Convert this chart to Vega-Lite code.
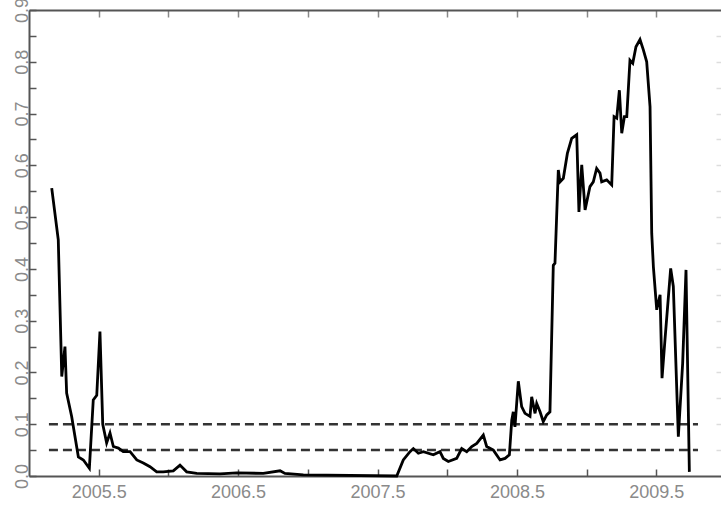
{
  "$schema": "https://vega.github.io/schema/vega-lite/v6.json",
  "width": 692,
  "height": 466,
  "autosize": {"type": "none"},
  "padding": {"left": 29, "top": 10, "right": 0, "bottom": 29},
  "background": "white",
  "config": {
    "view": {"stroke": null},
    "axis": {
      "grid": false,
      "title": null,
      "domainColor": "#555555",
      "domainWidth": 2,
      "ticks": true,
      "tickColor": "#555555",
      "tickWidth": 1.5,
      "tickSize": -7,
      "labelFont": "Liberation Sans",
      "labelFontSize": 18,
      "labelColor": "#8a8a8a"
    }
  },
  "datasets": {
    "series": [
      {"t": 2005.163, "v": 0.556}, {"t": 2005.210, "v": 0.456}, {"t": 2005.235, "v": 0.192},
      {"t": 2005.258, "v": 0.250}, {"t": 2005.270, "v": 0.160}, {"t": 2005.306, "v": 0.115},
      {"t": 2005.354, "v": 0.037}, {"t": 2005.390, "v": 0.031}, {"t": 2005.433, "v": 0.015},
      {"t": 2005.461, "v": 0.147}, {"t": 2005.486, "v": 0.156}, {"t": 2005.509, "v": 0.279},
      {"t": 2005.529, "v": 0.100}, {"t": 2005.557, "v": 0.064}, {"t": 2005.581, "v": 0.083},
      {"t": 2005.605, "v": 0.057}, {"t": 2005.641, "v": 0.054}, {"t": 2005.676, "v": 0.047},
      {"t": 2005.725, "v": 0.047}, {"t": 2005.773, "v": 0.031}, {"t": 2005.820, "v": 0.025},
      {"t": 2005.868, "v": 0.018}, {"t": 2005.916, "v": 0.008}, {"t": 2005.963, "v": 0.008},
      {"t": 2006.035, "v": 0.010}, {"t": 2006.083, "v": 0.021}, {"t": 2006.131, "v": 0.008},
      {"t": 2006.203, "v": 0.005}, {"t": 2006.370, "v": 0.004}, {"t": 2006.490, "v": 0.006},
      {"t": 2006.681, "v": 0.005}, {"t": 2006.801, "v": 0.010}, {"t": 2006.836, "v": 0.005},
      {"t": 2006.968, "v": 0.002}, {"t": 2007.638, "v": 0.000}, {"t": 2007.685, "v": 0.031},
      {"t": 2007.733, "v": 0.047}, {"t": 2007.757, "v": 0.053}, {"t": 2007.793, "v": 0.044},
      {"t": 2007.829, "v": 0.047}, {"t": 2007.900, "v": 0.041}, {"t": 2007.948, "v": 0.047},
      {"t": 2007.972, "v": 0.034}, {"t": 2008.008, "v": 0.028}, {"t": 2008.068, "v": 0.034},
      {"t": 2008.104, "v": 0.053}, {"t": 2008.140, "v": 0.047}, {"t": 2008.176, "v": 0.057},
      {"t": 2008.212, "v": 0.063}, {"t": 2008.259, "v": 0.079}, {"t": 2008.283, "v": 0.057},
      {"t": 2008.331, "v": 0.050}, {"t": 2008.379, "v": 0.031}, {"t": 2008.415, "v": 0.034},
      {"t": 2008.446, "v": 0.041}, {"t": 2008.463, "v": 0.108}, {"t": 2008.474, "v": 0.124},
      {"t": 2008.486, "v": 0.095}, {"t": 2008.510, "v": 0.183}, {"t": 2008.534, "v": 0.134},
      {"t": 2008.558, "v": 0.121}, {"t": 2008.594, "v": 0.115}, {"t": 2008.606, "v": 0.153},
      {"t": 2008.630, "v": 0.121}, {"t": 2008.642, "v": 0.140}, {"t": 2008.666, "v": 0.124},
      {"t": 2008.689, "v": 0.105}, {"t": 2008.714, "v": 0.118}, {"t": 2008.737, "v": 0.124},
      {"t": 2008.761, "v": 0.407}, {"t": 2008.773, "v": 0.411}, {"t": 2008.797, "v": 0.591},
      {"t": 2008.809, "v": 0.568}, {"t": 2008.833, "v": 0.575}, {"t": 2008.862, "v": 0.623},
      {"t": 2008.893, "v": 0.652}, {"t": 2008.929, "v": 0.659}, {"t": 2008.945, "v": 0.510},
      {"t": 2008.965, "v": 0.601}, {"t": 2008.989, "v": 0.514}, {"t": 2009.024, "v": 0.559},
      {"t": 2009.048, "v": 0.568}, {"t": 2009.072, "v": 0.594}, {"t": 2009.096, "v": 0.585},
      {"t": 2009.108, "v": 0.568}, {"t": 2009.144, "v": 0.572}, {"t": 2009.180, "v": 0.562},
      {"t": 2009.197, "v": 0.694}, {"t": 2009.216, "v": 0.691}, {"t": 2009.235, "v": 0.745},
      {"t": 2009.252, "v": 0.662}, {"t": 2009.271, "v": 0.694}, {"t": 2009.288, "v": 0.694},
      {"t": 2009.311, "v": 0.803}, {"t": 2009.331, "v": 0.797}, {"t": 2009.354, "v": 0.829},
      {"t": 2009.383, "v": 0.843}, {"t": 2009.407, "v": 0.823}, {"t": 2009.431, "v": 0.800},
      {"t": 2009.455, "v": 0.713}, {"t": 2009.467, "v": 0.469}, {"t": 2009.479, "v": 0.404},
      {"t": 2009.503, "v": 0.321}, {"t": 2009.527, "v": 0.350}, {"t": 2009.541, "v": 0.189},
      {"t": 2009.562, "v": 0.263}, {"t": 2009.603, "v": 0.401}, {"t": 2009.622, "v": 0.366},
      {"t": 2009.658, "v": 0.076}, {"t": 2009.689, "v": 0.218}, {"t": 2009.713, "v": 0.398},
      {"t": 2009.737, "v": 0.008}
    ],
    "refs": [
      {"t": 2005.143, "t2": 2009.799, "v": 0.1},
      {"t": 2005.143, "t2": 2009.799, "v": 0.05}
    ]
  },
  "resolve": {"axis": {"x": "independent", "y": "independent"}},
  "layer": [
    {
      "data": {"name": "refs"},
      "mark": {"type": "rule", "color": "#333333", "strokeWidth": 2.5, "strokeDash": [9, 5]},
      "encoding": {
        "x": {
          "field": "t", "type": "quantitative",
          "scale": {"domain": [2005, 2009.964], "nice": false, "zero": false},
          "axis": {"orient": "top", "values": [2005.5, 2006, 2006.5, 2007, 2007.5, 2008, 2008.5, 2009, 2009.5], "labels": false, "tickColor": "#888888"}
        },
        "x2": {"field": "t2"},
        "y": {
          "field": "v", "type": "quantitative",
          "scale": {"domain": [0, 0.9], "nice": false, "zero": false},
          "axis": {"orient": "right", "values": [0.05, 0.1, 0.15, 0.2, 0.25, 0.3, 0.35, 0.4, 0.45, 0.5, 0.55, 0.6, 0.65, 0.7, 0.75, 0.8, 0.85], "labels": false, "domain": false, "tickColor": "#dddddd", "tickSize": -5}
        }
      }
    },
    {
      "data": {"name": "series"},
      "mark": {"type": "line", "color": "black", "strokeWidth": 2.8},
      "encoding": {
        "x": {
          "field": "t", "type": "quantitative",
          "scale": {"domain": [2005, 2009.964], "nice": false, "zero": false},
          "axis": {
            "orient": "bottom",
            "values": [2005.5, 2006, 2006.5, 2007, 2007.5, 2008, 2008.5, 2009, 2009.5],
            "labelExpr": "(datum.value % 1) > 0.25 ? format(datum.value, '.1f') : ''",
            "labelPadding": 14
          }
        },
        "y": {
          "field": "v", "type": "quantitative",
          "scale": {"domain": [0, 0.9], "nice": false, "zero": false},
          "axis": {
            "orient": "left",
            "values": [0, 0.05, 0.1, 0.15, 0.2, 0.25, 0.3, 0.35, 0.4, 0.45, 0.5, 0.55, 0.6, 0.65, 0.7, 0.75, 0.8, 0.85, 0.9],
            "labelExpr": "round(datum.value * 20) % 2 == 0 ? format(datum.value, '.1f') : ''",
            "labelAngle": -90,
            "labelPadding": 5
          }
        }
      }
    }
  ]
}
